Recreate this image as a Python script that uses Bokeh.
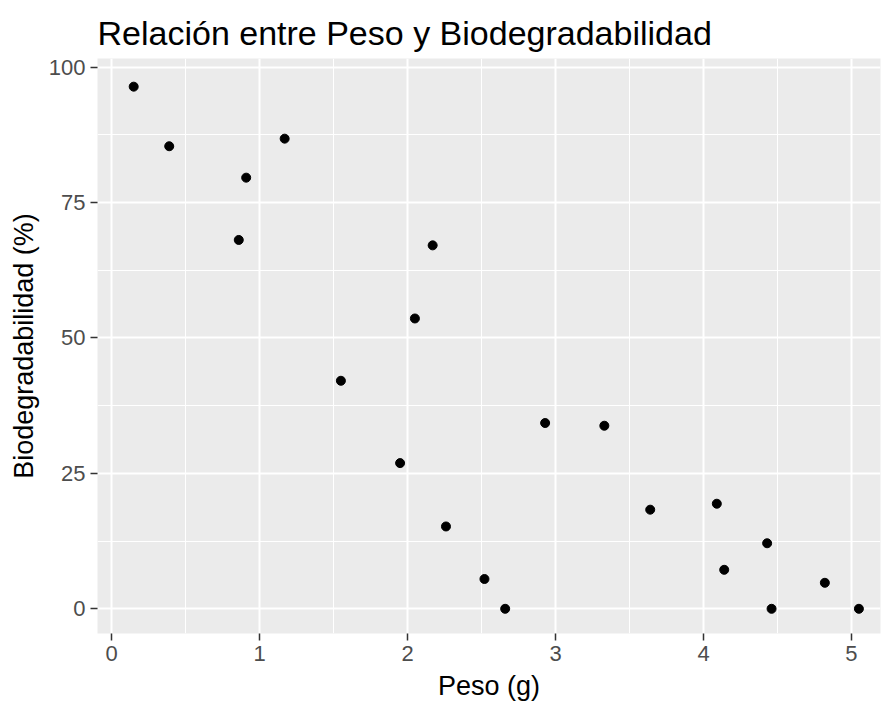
from bokeh.plotting import figure
from bokeh.models import Range1d, FixedTicker
from bokeh.embed import file_html
from bokeh.resources import INLINE

# data
peso = [0.15, 0.39, 0.86, 0.91, 1.17, 1.55, 1.95, 2.05, 2.17, 2.26, 2.52,
        2.66, 2.93, 3.33, 3.64, 4.09, 4.14, 4.43, 4.46, 4.82, 5.05]
biodeg = [96.4, 85.4, 68.1, 79.6, 86.8, 42.1, 26.9, 53.6, 67.1, 15.2, 5.5,
          0.0, 34.3, 33.8, 18.3, 19.4, 7.2, 12.1, 0.0, 4.8, 0.0]

x_ticks = [0, 1, 2, 3, 4, 5]
x_minor = [0.5, 1.5, 2.5, 3.5, 4.5]
y_ticks = [0, 25, 50, 75, 100]
y_minor = [12.5, 37.5, 62.5, 87.5]

FONT = "Liberation Sans"

p = figure(width=882, height=704, output_backend="svg", toolbar_location=None,
           x_range=Range1d(-0.0946, 5.196), y_range=Range1d(-4.56, 101.6),
           min_border_left=97, min_border_right=2, min_border_top=58,
           min_border_bottom=71, background_fill_color="#EBEBEB",
           border_fill_color="white", outline_line_color=None,
           title="Relación entre Peso y Biodegradabilidad")

p.title.text_font = FONT
p.title.text_font_size = "34px"
p.title.text_font_style = "normal"
p.title.text_color = "black"
p.title.align = "left"
p.title.standoff = 13

p.xaxis.ticker = FixedTicker(ticks=x_ticks, minor_ticks=x_minor)
p.yaxis.ticker = FixedTicker(ticks=y_ticks, minor_ticks=y_minor)

for ax in (p.xaxis, p.yaxis):
    ax.axis_line_color = None
    ax.major_tick_in = 0
    ax.major_tick_out = 7
    ax.major_tick_line_color = "#333333"
    ax.major_tick_line_width = 1.5
    ax.minor_tick_line_color = None
    ax.major_label_text_font = FONT
    ax.major_label_text_font_size = "22px"
    ax.major_label_text_color = "#4D4D4D"
    ax.major_label_standoff = 5
    ax.axis_label_text_font = FONT
    ax.axis_label_text_font_size = "27px"
    ax.axis_label_text_font_style = "normal"
    ax.axis_label_text_color = "black"

p.xaxis.axis_label_standoff = 7
p.yaxis.axis_label_standoff = 7

p.xaxis.axis_label = "Peso (g)"
p.yaxis.axis_label = "Biodegradabilidad (%)"

for g in (p.xgrid, p.ygrid):
    g.grid_line_color = "white"
    g.grid_line_width = 2
    g.minor_grid_line_color = "white"
    g.minor_grid_line_width = 1

p.scatter(x=peso, y=biodeg, size=9, color="black")

open("out.html", "w").write(file_html(p, INLINE))
